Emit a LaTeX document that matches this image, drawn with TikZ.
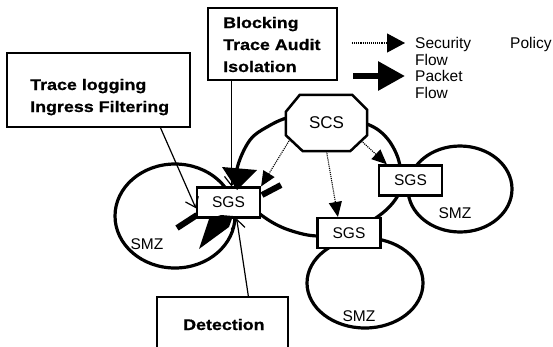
\documentclass[tikz,border=0pt]{standalone}
\usepackage{fontspec}
\setmainfont{Liberation Sans}
\newfontfamily\boxfont[FakeStretch=1.16,FakeBold=0.8]{Liberation Sans Bold}
\usetikzlibrary{arrows.meta,calc}
\begin{document}
\begin{tikzpicture}[x=1pt,y=-1pt,
  smz/.style={line width=3.2pt},
  gw/.style={draw,line width=2.2pt,fill=white,minimum width=63pt,minimum height=30pt,inner sep=0pt,font=\fontsize{15.5}{18}\selectfont},
  tbox/.style={draw,line width=1.6pt,inner sep=0pt},
  btext/.style={font=\boxfont\fontsize{15.4}{18}\selectfont,inner sep=0pt,anchor=base west},
  ltext/.style={font=\fontsize{15.5}{18}\selectfont,inner sep=0pt,anchor=base west},
  zlabel/.style={font=\fontsize{15.5}{18}\selectfont,inner sep=0pt},
  conn/.style={line width=1.2pt,-{Straight Barb[length=9pt,width=14pt,line width=1.2pt]}},
  pol/.style={densely dotted,line width=1.1pt,-{Triangle[length=15pt,width=13pt]}},
  bar/.style={line width=6pt},
]
\clip (0,0) rectangle (553,346);
\fill[white] (0,0) rectangle (553,346);

% SMZ zones
\draw[smz] (175,216) ellipse [x radius=60, y radius=52];
\draw[smz] (460,189) ellipse [x radius=52, y radius=43];
\draw[smz] (365,283) ellipse [x radius=58, y radius=45];
\draw[smz] plot[smooth cycle, tension=0.6] coordinates {(326,112) (367,124) (386,137) (398,158) (401,180) (397,197) (380,215) (350,232) (318,236) (292,231) (270,221) (250,205) (237,185) (238,165) (250,140) (267,127) (290,117)};

% text boxes
\node[tbox, minimum width=183pt, minimum height=74pt] (tl) at (98.5,90) {};
\node[btext] (tl1) at (30,90) {Trace logging};
\node[btext] (tl2) at (30,112) {Ingress Filtering};

\node[tbox, minimum width=129pt, minimum height=72pt] (bl) at (272.5,44) {};
\node[btext] (bl1) at (223,28) {Blocking};
\node[btext] (bl2) at (223,50) {Trace Audit};
\node[btext] (bl3) at (223,72) {Isolation};

\node[tbox, minimum width=131pt, minimum height=63pt] (det) at (222.5,328.5) {};
\node[btext] (det1) at (183,330) {Detection};

% legend
\coordinate (l1a) at (352,43);
\coordinate (l1b) at (405,43);
\draw[densely dotted, line width=1.1pt, -{Triangle[length=18pt,width=19pt]}] (l1a) -- (l1b);
\coordinate (l2a) at (353,76);
\coordinate (l2b) at (405,76);
\draw[line width=6pt, -{Triangle[length=27pt,width=28pt]}] (l2a) -- (l2b);
\node[ltext] (lg1) at (415,48) {Security};
\node[ltext] (lg2) at (510,48) {Policy};
\node[ltext] (lg3) at (415,65) {Flow};
\node[ltext] (lg4) at (415,81) {Packet};
\node[ltext] (lg5) at (415,98) {Flow};

% SCS octagon
\node[minimum width=81pt, minimum height=56pt, inner sep=0pt] (scs) at (326.5,123) {};
\coordinate (o1) at ($(scs.north west)+(14,0)$);
\coordinate (o2) at ($(scs.north east)+(-15,0)$);
\coordinate (o3) at ($(scs.north east)+(0,15)$);
\coordinate (o4) at ($(scs.south east)+(0,-16)$);
\coordinate (o5) at ($(scs.south east)+(-17,0)$);
\coordinate (o6) at ($(scs.south west)+(17,0)$);
\coordinate (o7) at ($(scs.south west)+(0,-16)$);
\coordinate (o8) at ($(scs.north west)+(0,17)$);
\draw[line width=2.5pt, fill=white, line join=miter] (o1) -- (o2) -- (o3) -- (o4) -- (o5) -- (o6) -- (o7) -- (o8) -- cycle;
\node[font=\fontsize{17}{20}\selectfont, inner sep=0pt] (scst) at (scs.center) {SCS};

% SGS gateways
\node[gw] (sgsL) at (228.5,202.5) {SGS};
\node[gw] (sgsR) at (410.5,180.5) {SGS};
\node[gw] (sgsM) at (349,233) {SGS};

% SMZ labels
\node[zlabel] (zL) at (147,244) {SMZ};
\node[zlabel] (zR) at (455,213) {SMZ};
\node[zlabel] (zM) at (359,316) {SMZ};

% security policy flows
\draw[pol] ($(o7)!0.25!(o6)$) -- (sgsL.north east);
\draw[pol] (scs.south) -- ($(sgsM.north west)!0.33!(sgsM.north east)$);
\draw[pol] ($(o4)!0.35!(o5)$) -- ($(sgsR.north west)+(9,0)$);

% function connectors
\draw[conn] ($(tl.south west)!0.836!(tl.south east)$) -- (sgsL.190);
\coordinate (bx) at ($(bl.south west)!0.186!(bl.south east)$);
\draw[conn] (bx) -- (bx |- sgsL.north);
\coordinate (dx) at ($(det.north west)!0.695!(det.north east)$);
\draw[conn] (dx) -- ($(sgsL.south)!0.25!(sgsL.south east)$);

% packet flow heads and blocking bars at the left gateway
\fill (222,167) -- (257,170) -- (237,190) -- cycle;
\fill (199,249) -- (209,219) -- (221,215) -- (233,216) -- (229,227) -- cycle;
\draw[bar] (262,195) -- (281,185);
\draw[bar] (177,228) -- (197,215);
\end{tikzpicture}
\end{document}
